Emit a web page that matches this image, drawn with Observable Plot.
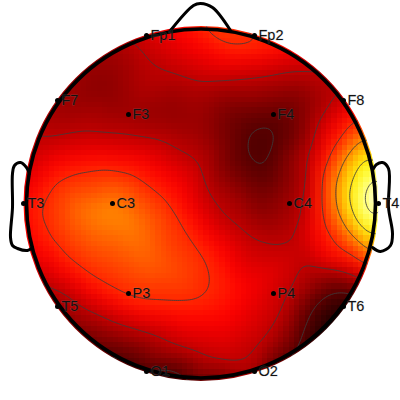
<!DOCTYPE html>
<html><head><meta charset="utf-8">
<style>html,body{margin:0;padding:0;background:#fff}svg{display:block}</style>
<script src="https://cdn.jsdelivr.net/npm/d3@7"></script>
<script src="https://cdn.jsdelivr.net/npm/@observablehq/plot@0.6"></script>
</head><body><div id="chart"></div>
<script>
const electrodes = ["Fp1","Fp2","F7","F3","F4","F8","T3","C3","C4","T4","T5","P3","P4","T6","O1","O2"];
const electrodeX = [146,254,57,128,273,343,23,112,289,378,57,128,273,343,146,254];
const electrodeY = [35,35,100,114,114,100,203,203,203,203,306,293,293,306,371,371];
const thresholds = [0.13,0.28,0.43,0.58,0.73,0.88];
const low13a = [[262,121],[272,122],[277,132],[275,147],[268,167],[260,172],[252,165],[245,150],[245,138],[253,127]];
const low13b = [[352,290],[348,290],[333,290],[320,297],[310,310],[303,327],[297,347],[293,356]];
const low13c = [[113,353],[133,360],[150,371]];
const line28a = [[135,43],[147,57],[167,70],[187,77],[200,81],[233,79],[267,75],[290,71],[310,70],[316,70]];
const line28b = [[335,98],[317,123],[310,150],[307,187],[302,217],[295,237],[280,246],[250,237],[220,213],[212,200],[200,163],[183,153],[160,140],[127,135],[83,132],[40,140]];
const line28c = [[357,277],[333,268],[307,263],[297,270],[290,293],[280,317],[267,337],[257,357],[243,365],[230,365],[210,360],[200,354],[180,347],[150,333],[117,323],[83,307],[47,285]];
const line43a = [[207,32],[220,40],[237,45],[253,46],[267,42]];
const line43b = [[43,200],[53,183],[77,172],[103,168],[130,173],[150,187],[166,200],[180,220],[200,250],[210,267],[215,283],[210,295],[200,301],[167,302],[143,301],[127,297],[110,288],[93,278],[67,258],[50,237],[40,217],[40,203]];
const line43c = [[353,122],[333,150],[322,177],[322,200],[325,223],[338,243],[358,257]];
const line58 = [[360,138],[343,160],[335,183],[337,210],[350,233],[367,250]];
const line73 = [[365,155],[352,177],[348,197],[355,220],[372,237]];
const line88 = [[372,175],[362,197],[365,210],[372,220]];
const readings = [
 [260,145,.11],[233,145,.16],[230,160,.16],[215,170,.22],[260,200,.18],[285,200,.22],[240,210,.25],[200,130,.23],[180,120,.22],[297,140,.18],[295,100,.18],[310,105,.22],[320,100,.24],[250,105,.19],[230,100,.2],[215,110,.2],[200,100,.24],[170,100,.22],[150,120,.23],[128,114,.23],[100,85,.2],[60,110,.23],[40,110,.26],[120,60,.23],[90,70,.22],[340,90,.26],[320,75,.27],
 [200,40,.39],[225,33,.48],[175,40,.35],[250,60,.36],[225,60,.37],[175,60,.31],[290,55,.34],
 [100,215,.57],[125,220,.57],[115,205,.57],[150,260,.52],[170,270,.49],[80,210,.54],[60,210,.47],[28,200,.38],[100,150,.35],[200,200,.32],
 [240,290,.38],[180,320,.37],[330,255,.39],[290,258,.31],[320,280,.22],[100,340,.18],[167,373,.09],[217,373,.16],[233,373,.22],[270,360,.17],[60,300,.24],
 [345,320,.02],[330,330,.03],[320,340,.05],[355,300,.09],[378,197,1],[385,195,1],[380,150,.62],[385,230,.72]
];
const outerReadings = [
 [200,15,.44],[100,40,.24],[50,70,.24],[10,130,.3],[10,200,.37],[15,270,.29],[60,330,.17],[120,390,.05],[200,395,.1],[250,395,.2],[300,375,.05],[350,335,0],[380,290,.29],[395,260,.52],[340,50,.29],[300,40,.4],[40,40,.22],[395,120,.47],[0,0,.2],[400,0,.3],[0,400,.1],[400,400,.05]
];
const nose = [[170,30],[193,5],[200,3],[212,7],[230,30]];
const leftEar = [[29,173],[26,167],[20,162],[14,165],[12,173],[12,207],[10,237],[12,245],[17,248],[27,250],[32,247]];
const rightEar = [[373,168],[376,164],[382,162],[388,168],[388,207],[392,233],[390,245],[380,251],[372,247]];

const traced = (pts, v) => pts.map(([x,y]) => ({x,y,v}));
const samples = [
  ...traced(low13a,.13),...traced(low13b,.13),...traced(low13c,.13),
  ...traced(line28a,.28),...traced(line28b,.28),...traced(line28c,.28),
  ...traced(line43a,.43),...traced(line43b,.43),...traced(line43c,.43),
  ...traced(line58,.58),...traced(line73,.73),...traced(line88,.88),
  ...[...readings,...outerReadings].map(([x,y,v]) => ({x,y,v}))
];
const sensors = electrodes.map((name,i) => ({name,x:electrodeX[i],y:electrodeY[i]}));
const head = [{x:200.5,y:203}];
const pt = {x:d=>d[0],y:d=>d[1]};
const outline = {...pt,stroke:"#000",strokeWidth:3,curve:"catmull-rom"};

const chart = Plot.plot({
  width:400,height:400,margin:0,
  x:{domain:[0,400],range:[0,400],axis:null},
  y:{domain:[0,400],range:[0,400],axis:null},
  color:{type:"linear",domain:[0,.375,.75,1],range:["#000000","#ff0000","#ffff00","#ffffff"],clamp:true},
  style:{background:"#fff"},
  marks:[
    Plot.raster(samples,{x:"x",y:"y",fill:"v",interpolate:"barycentric",pixelSize:5.3,blur:1,imageRendering:"pixelated"}),
    Plot.contour(samples,{x:"x",y:"y",value:"v",interpolate:"barycentric",thresholds,blur:3,pixelSize:2,stroke:"#3c3c3c",strokeWidth:1,strokeOpacity:.85,fill:"none"}),
    Plot.dot(head,{x:"x",y:"y",r:288.5,stroke:"#fff",strokeWidth:222,fill:"none"}),
    Plot.dot(head,{x:"x",y:"y",r:174.5,stroke:"#000",strokeWidth:3.6,fill:"none"}),
    Plot.line(nose,outline),
    Plot.line(leftEar,outline),
    Plot.line(rightEar,outline),
    Plot.dot(sensors,{x:"x",y:"y",r:2.5,fill:"#000"}),
    Plot.text(sensors,{x:"x",y:"y",text:"name",dx:4,textAnchor:"start",fontSize:14.5,fontFamily:"Liberation Sans",fill:"#111",stroke:"#888",strokeOpacity:.3,strokeWidth:1})
  ]
});
document.getElementById("chart").append(chart);
</script></body></html>
